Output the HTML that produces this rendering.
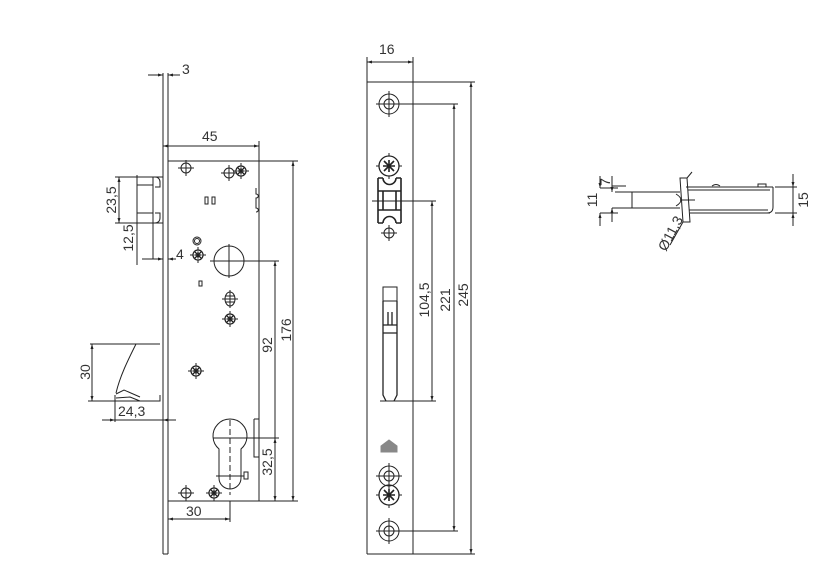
<!DOCTYPE html>
<html><head><meta charset="utf-8"><style>
html,body{margin:0;padding:0;background:#fff;}
svg{display:block;}
text{font-family:"Liberation Sans",sans-serif;font-size:14px;fill:#333;}
</style></head><body>
<svg width="838" height="571" viewBox="0 0 838 571" xmlns="http://www.w3.org/2000/svg">
<defs>
<marker id="a" viewBox="0 0 10 10" refX="10" refY="5" markerWidth="7" markerHeight="5" orient="auto-start-reverse"><path d="M0,2 L10,5 L0,8z" fill="#222"/></marker>
<g id="cr"><circle r="5" fill="none" stroke="#222"/><path d="M-8,0H8M0,-8V8" stroke="#222"/></g>
<g id="st"><circle r="5" fill="none" stroke="#222" stroke-width="1.3"/><path d="M-3,-3L3,3M-3,3L3,-3M0,-3.5V3.5M-3.5,0H3.5" stroke="#222" stroke-width="1.3"/><path d="M-8,0H-5M5,0H8M0,-8V-5M0,5V8" stroke="#222"/></g>
<g id="big"><circle r="10" fill="none" stroke="#222"/><circle r="5" fill="none" stroke="#222"/><path d="M-13,0H13M0,-13V13" stroke="#222"/></g>
<g id="bigst"><circle r="10" fill="none" stroke="#222" stroke-width="1.3"/><path d="M-5,-5L5,5M-5,5L5,-5M0,-6V6M-6,0H6" stroke="#222" stroke-width="1.6"/><path d="M-13,0H-10M10,0H13M0,-13V-10M0,10V13" stroke="#222"/></g>
</defs>
<g stroke="#222" stroke-width="1" fill="none">
<!-- LEFT VIEW -->
<path d="M163,73V554M168,73V554M163,554H168"/>
<path d="M148,75H163" marker-end="url(#a)"/><path d="M168,75H180" marker-start="url(#a)"/>
<path d="M163,146H259" marker-start="url(#a)" marker-end="url(#a)"/><path d="M259,141V501"/>
<path d="M168,161H298M168,501H298"/>
<path d="M293,161V501" marker-start="url(#a)" marker-end="url(#a)"/>
<path d="M275,261V501" marker-start="url(#a)" marker-end="url(#a)"/>
<path d="M275,438V501" marker-start="url(#a)"/>
<path d="M210,261H279M229,244V278"/>
<circle cx="229" cy="261" r="15"/>
<path d="M256,188v6c3,0 3,4 0,4v10c3,0 3,4 0,4v0"/>
<path d="M219,449 A17,17 0 1 1 241,449 V478 A11,11 0 0 1 219,478 Z"/>
<path d="M230,420V495" stroke-dasharray="6,3"/>
<path d="M216,476H244"/><rect x="244" y="472" width="4" height="7"/>
<path d="M254,419H259M254,419V457H259"/>
<path d="M213,438H279"/>
<path d="M230,501V522"/><path d="M168,519H230" marker-start="url(#a)" marker-end="url(#a)"/>
<path d="M115,177H163M115,223H163M137,175V265M153,177V259"/>
<path d="M155,177c3,0 5,2 5,5v5H155M155,213h5v5c0,3 -2,5 -5,5"/>
<path d="M137,185H153M137,213H153"/>
<path d="M119,177V223" marker-start="url(#a)" marker-end="url(#a)"/>
<path d="M142,259H163" marker-end="url(#a)"/><path d="M168,259H176" marker-start="url(#a)"/>
<path d="M90,344H160M136,344C128,360 120,376 116,393M116,394L124,390L140,397M116,398L130,397L140,401M115,401H160V395"/>
<path d="M92,344V401" marker-start="url(#a)" marker-end="url(#a)"/>
<path d="M88,401H116"/>
<path d="M115,395V422"/><path d="M102,420H115" marker-end="url(#a)"/><path d="M163,420H176" marker-start="url(#a)"/>
<path d="M115,420H163"/>
<circle cx="197" cy="241" r="4"/><circle cx="197" cy="241" r="2.5"/>
<rect x="199" y="281" width="3" height="5"/>
<rect x="205" y="197" width="3" height="7"/><rect x="212" y="197" width="3" height="7"/>
<ellipse cx="230" cy="299" rx="5" ry="7"/><path d="M222,299H238M230,290V308M225,296H235M225,302H235"/>
<!-- MIDDLE VIEW -->
<path d="M367,57V554M413,57V554M367,82H475M367,554H475"/>
<path d="M367,62H413" marker-start="url(#a)" marker-end="url(#a)"/>
<path d="M471,82V554" marker-start="url(#a)" marker-end="url(#a)"/>
<path d="M390,104H458M390,531H458"/>
<path d="M454,104V531" marker-start="url(#a)" marker-end="url(#a)"/>
<path d="M372,201H436M380,401H436"/>
<path d="M432,201V401" marker-start="url(#a)" marker-end="url(#a)"/>
<path d="M378,178V223M401,178V223M378,178H383M396,178H401M378,223H383M396,223H401M383,178A6,6 0 0 0 396,178M383,223A6,6 0 0 1 396,223M378,191H401M378,210H401M383,191V210M396,191V210" stroke-width="1.6"/>
<rect x="383" y="287" width="14" height="14"/>
<path d="M383,301V395L386,401M397,301V395L394,401M383,325H397M383,333H397M388,312V325M392,312V325" stroke-width="1.3"/>
<path d="M381,446L389,440L397,446V452H381Z" fill="#888" stroke="#888"/>
<!-- RIGHT VIEW -->
<path d="M615,192H680M615,208H680M632,192V208"/>
<path d="M600,188H618M600,213H618M612,186H626M612,208H626"/>
<path d="M600,176V188" marker-end="url(#a)"/><path d="M600,213V226" marker-start="url(#a)"/>
<path d="M612,176V192" marker-end="url(#a)"/><path d="M612,208V222" marker-start="url(#a)"/>
<path d="M680,178L687,178L690,222L683,222Z"/>
<path d="M686,187H773M690,213H770M688,190H770M689,210H768M773,187V207Q773,213 767,213"/>
<path d="M676,194Q686,200 676,206"/><path d="M680,200H695"/>
<path d="M683,222L670,245M687,178L692,172"/>
<path d="M712,186q4,-3 8,0M758,187v-3h8v3"/>
<path d="M775,187H797M775,213H797"/>
<path d="M793,174V187" marker-end="url(#a)"/><path d="M793,213V226" marker-start="url(#a)"/>
<path d="M793,187V213"/>
</g>
<use href="#cr" x="186" y="168"/><use href="#cr" x="229" y="173"/><use href="#st" x="241" y="171"/>
<use href="#st" x="198" y="255"/><use href="#st" x="230" y="319"/><use href="#st" x="196" y="371"/>
<use href="#cr" x="186" y="493"/><use href="#st" x="214" y="493"/>
<use href="#big" x="389" y="104"/><use href="#bigst" x="389" y="166"/><use href="#cr" x="389" y="233"/>
<use href="#big" x="389" y="476"/><use href="#bigst" x="389" y="495"/><use href="#big" x="389" y="531"/>
<text x="182" y="74">3</text>
<text x="202" y="141">45</text>
<text transform="translate(116,200) rotate(-90)" text-anchor="middle">23,5</text>
<text transform="translate(133,238) rotate(-90)" text-anchor="middle">12,5</text>
<text x="176" y="259" font-size="11">4</text>
<text transform="translate(291,330) rotate(-90)" text-anchor="middle">176</text>
<text transform="translate(272,345) rotate(-90)" text-anchor="middle">92</text>
<text transform="translate(272,462) rotate(-90)" text-anchor="middle">32,5</text>
<text transform="translate(90,372) rotate(-90)" text-anchor="middle">30</text>
<text x="118" y="416">24,3</text>
<text x="186" y="516">30</text>
<text x="379" y="54">16</text>
<text transform="translate(429,300) rotate(-90)" text-anchor="middle">104,5</text>
<text transform="translate(450,300) rotate(-90)" text-anchor="middle">221</text>
<text transform="translate(468,295) rotate(-90)" text-anchor="middle">245</text>
<text transform="translate(597,200) rotate(-90)" text-anchor="middle">11</text>
<text transform="translate(610,182) rotate(-90)" text-anchor="middle">7</text>
<text transform="translate(808,200) rotate(-90)" text-anchor="middle">15</text>
<text transform="translate(666,252) rotate(-62)">Ø11,3</text>
</svg>
</body></html>
